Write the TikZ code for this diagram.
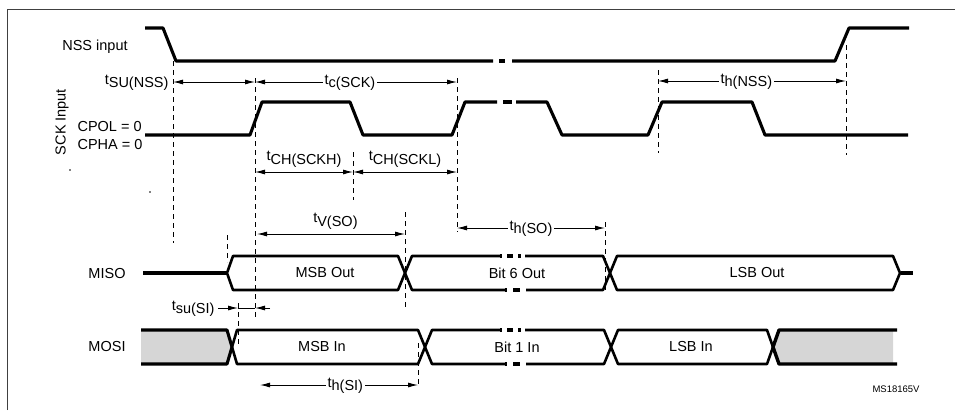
\documentclass[tikz,border=0pt]{standalone}
\usepackage{fontspec}
\setmainfont{Liberation Sans}
\usetikzlibrary{arrows.meta}

\newcommand{\tlab}[1]{t\raisebox{-0.45ex}{#1}}

\tikzset{
  sig/.style={line width=3.1pt, line join=bevel},
  bus/.style={line width=2.6pt, line join=round},
  guide/.style={dash pattern=on 5pt off 4pt, line width=0.9pt},
  dim/.style={line width=0.9pt, {Latex[length=10pt,width=5pt]}-{Latex[length=10pt,width=5pt]}},
  onedim/.style={line width=0.9pt, -{Latex[length=10pt,width=5pt]}},
  lbl/.style={fill=white, inner sep=1.5pt},
}

\begin{document}
\begin{tikzpicture}[x=1pt,y=-1pt,font=\fontsize{14.5}{16}\selectfont]
  \useasboundingbox (0,0) rectangle (955,410);

  % frame
  \draw[line width=0.8pt, black!75] (7,410) -- (7,9) -- (955,9);

  % signal names
  \node (nssname) at (95,47) {NSS input};
  \node[rotate=90] (sckname) at (62,122) {SCK Input};
  \node[anchor=west] (cpol) at (74,127) {CPOL = 0};
  \node[anchor=west] (cpha) at (74,145) {CPHA = 0};
  \node (misoname) at (107,274) {MISO};
  \node (mosiname) at (107,347) {MOSI};
  \fill (70,170) circle [radius=0.8pt];
  \fill (150,192) circle [radius=0.8pt];

  % NSS
  \draw[sig] (145,28) -- (163,28) -- (176,61) -- (493,61);
  \draw[sig] (499,61) -- (505,61);
  \draw[sig] (512,61) -- (835,61) -- (849,28) -- (909,28);

  % SCK
  \draw[sig] (145,135) -- (250,135) -- (262,102) -- (350,102) -- (363,135)
    -- (452,135) -- (465,102) -- (497,102);
  \draw[sig] (503,102) -- (512,102);
  \draw[sig] (516,102) -- (547,102) -- (562,135) -- (648,135) -- (662,102)
    -- (752,102) -- (765,135) -- (908,135);

  % guides
  \draw[guide] (173,61) -- (173,243);
  \draw[guide] (255,78) -- (255,317);
  \draw[guide] (353,152) -- (353,200);
  \draw[guide] (457,78) -- (457,232);
  \draw[guide] (658,70) -- (658,153);
  \draw[guide] (846,45) -- (846,155);
  \draw[guide] (405,212) -- (405,307);
  \draw[guide] (605,222) -- (605,290);
  \draw[guide] (227,235) -- (227,262);
  \draw[guide] (238,303) -- (238,345);
  \draw[guide] (418,343) -- (418,385);

  % timings
  \draw[dim] (173,82) -- (255,82);
  \node[anchor=east, yshift=-1pt] (tsunss) at (172,82) {\tlab{SU(NSS)}};
  \draw[dim] (255,82) -- node[lbl, pos=0.47, yshift=-1pt] (tcsck) {\tlab{c(SCK)}} (457,82);
  \draw[dim] (658,81) -- node[lbl, pos=0.47, yshift=-1pt] (thnss) {\tlab{h(NSS)}} (846,81);
  \draw[dim] (255,172) -- node[above, yshift=1pt] (tchh) {\tlab{CH(SCKH)}} (353,172);
  \draw[dim] (353,172) -- node[above, yshift=1pt] (tchl) {\tlab{CH(SCKL)}} (457,172);
  \draw[dim] (257,234) -- node[above, pos=0.53, yshift=1pt] (tvso) {\tlab{V(SO)}} (405,234);
  \draw[dim] (457,228) -- node[lbl, midway, yshift=-1pt] (thso) {\tlab{h(SO)}} (605,228);
  \draw[dim] (260,385) -- node[lbl, pos=0.54, yshift=-1pt] (thsi) {\tlab{h(SI)}} (418,385);
  \node[anchor=east, yshift=-1pt] (tsusi) at (218,308) {\tlab{su(SI)}};
  \draw[onedim] (218,308) -- (238,308);
  \draw[line width=0.9pt] (238,308) -- (255,308);
  \draw[onedim] (270,308) -- (255,308);

  % MISO
  \draw[bus, line width=3.6pt] (143,273) -- (226,273);
  \draw[bus] (233,256) -- (227,273) -- (233,290) -- (398,290) -- (405,273) -- (398,256) -- cycle;
  \draw[bus] (500,256) -- (412,256) -- (405,273) -- (412,290) -- (505,290);
  \draw[bus, line width=3.4pt] (500,256) -- (502,256) (507,256) -- (513,256) (518,256) -- (521,256)
    (505,290) -- (507,290) (513,290) -- (520,290);
  \draw[bus] (525,256) -- (603,256) -- (610,273) -- (603,290) -- (526,290);
  \draw[bus] (617,256) -- (610,273) -- (617,290) -- (893,290) -- (900,273) -- (893,256) -- cycle;
  \draw[bus, line width=3.6pt] (901,273) -- (913,273);
  \node (msbout) at (325,273) {MSB Out};
  \node (bit6out) at (517,273) {Bit 6 Out};
  \node (lsbout) at (757,273) {LSB Out};

  % MOSI
  \fill[black!16] (141,330) -- (227,330) -- (232,347) -- (227,364) -- (141,364) -- cycle;
  \draw[bus, line width=3.1pt] (141,330) -- (227,330) -- (232,347) -- (227,364) -- (141,364);
  \draw[bus] (237,330) -- (232,347) -- (237,364) -- (418,364) -- (425,347) -- (418,330) -- cycle;
  \draw[bus] (500,330) -- (432,330) -- (425,347) -- (432,364) -- (505,364);
  \draw[bus, line width=3.4pt] (500,330) -- (502,330) (507,330) -- (513,330) (518,330) -- (521,330)
    (505,364) -- (507,364) (513,364) -- (520,364);
  \draw[bus] (525,330) -- (604,330) -- (611,347) -- (604,364) -- (526,364);
  \draw[bus] (618,330) -- (611,347) -- (618,364) -- (767,364) -- (773,347) -- (767,330) -- cycle;
  \fill[black!16] (773,347) -- (779,330) -- (893,330) -- (893,364) -- (779,364) -- cycle;
  \draw[bus, line width=3.4pt] (897,330) -- (779,330) -- (773,347) -- (779,364) -- (897,364);
  \node (msbin) at (322,347) {MSB In};
  \node (bit1in) at (517,347) {Bit 1 In};
  \node (lsbin) at (691,347) {LSB In};

  \node[font=\fontsize{9.5}{11}\selectfont] (msref) at (896,389) {MS18165V};
\end{tikzpicture}
\end{document}
